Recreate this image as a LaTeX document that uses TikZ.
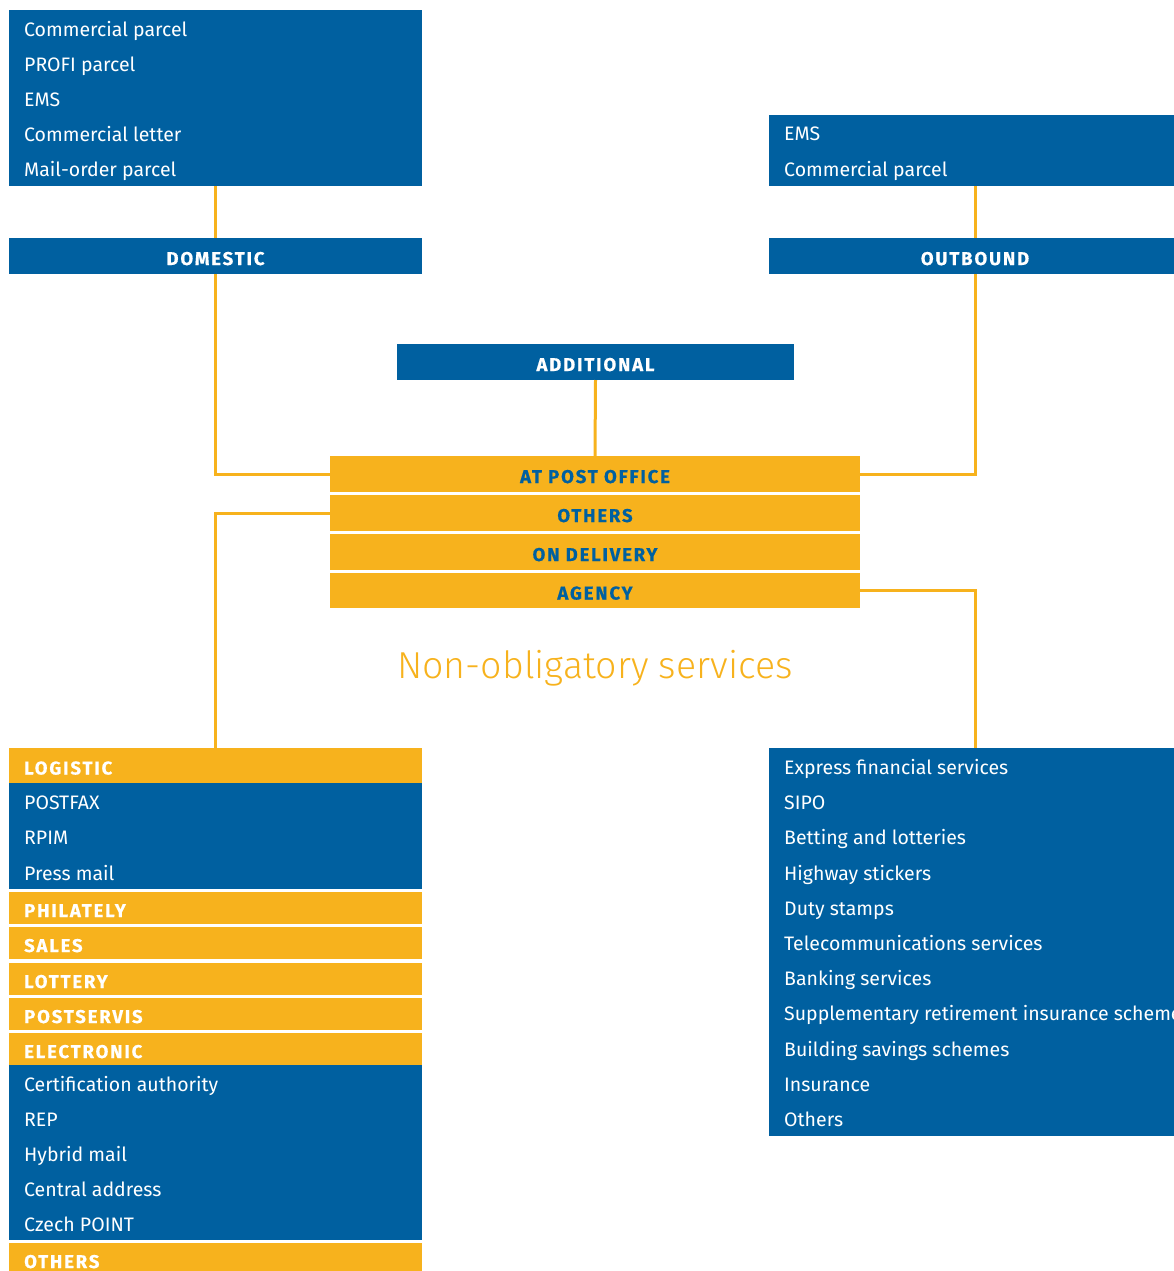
\documentclass[tikz,border=0pt]{standalone}
\usepackage{fontspec}
\setmainfont{Fira Sans}
\newfontfamily\headfont[LetterSpace=10, BoldFeatures={FakeBold=0.5}]{Fira Sans}
\newfontfamily\thinfont{Fira Sans Light}
\usetikzlibrary{positioning}
\definecolor{postblue}{RGB}{0,96,160}
\definecolor{postyellow}{RGB}{247,178,29}
\tikzset{
	box/.style={anchor=north west, inner sep=0pt, outer sep=0pt},
	bluebox/.style={box, fill=postblue},
	yellowbox/.style={box, fill=postyellow},
	item/.style={anchor=base west, inner sep=0pt, text=white, font=\fontsize{19.5}{19.5}\selectfont},
	head/.style={inner sep=0pt, text height=18pt, text depth=0pt, font=\headfont\bfseries\fontsize{18.5}{18.5}\selectfont},
	link/.style={postyellow, line width=3pt},
}
\begin{document}
\begin{tikzpicture}[x=1pt,y=-1pt]
	\useasboundingbox (0,0) rectangle (1173,1271);
	% domestic and outbound
	\node[bluebox, minimum width=413, minimum height=176] (domlist) at (9,10) {};
	\foreach \t [count=\i] in {Commercial parcel, PROFI parcel, EMS, Commercial letter, Mail-order parcel}
		\node[item] (dom-\i) at (24,{36.5+35*(\i-1)}) {\t};
	\node[bluebox, head, text=white, minimum width=413, minimum height=36] (dom) at (9,238) {DOMESTIC};
	\node[bluebox, minimum width=412, minimum height=71] (outlist) at (769,115) {};
	\node[item] (out-1) at (784,141) {EMS};
	\node[item] (out-2) at (784,176) {Commercial parcel};
	\node[bluebox, head, text=white, minimum width=412, minimum height=36] (outb) at (769,238) {OUTBOUND};
	% centre
	\node[bluebox, head, text=white, minimum width=397, minimum height=36] (add) at (397,344) {ADDITIONAL};
	\node[yellowbox, head, text=postblue, minimum width=530, minimum height=36] (apo) at (330,456) {AT POST OFFICE};
	\node[yellowbox, head, text=postblue, minimum width=530, minimum height=36] (oth) at (330,495) {OTHERS};
	\node[yellowbox, head, text=postblue, minimum width=530, minimum height=36] (del) at (330,534) {ON DELIVERY};
	\node[yellowbox, head, text=postblue, minimum width=530, minimum height=35] (agy) at (330,573) {AGENCY};
	\node[anchor=base, inner sep=0pt, text=postyellow, font=\thinfont\fontsize{37.5}{37.5}\selectfont] (title) at (595,678) {Non-obligatory services};
	% bottom left
	\node[yellowbox, minimum width=413, minimum height=35] (logi) at (9,748) {};
	\node[bluebox, minimum width=413, minimum height=106] (logilist) at (9,783) {};
	\foreach \t [count=\i] in {POSTFAX, RPIM, Press mail}
		\node[item] (logi-\i) at (24,{809+35.5*(\i-1)}) {\t};
	\node[yellowbox, minimum width=413, minimum height=32] (phil) at (9,892) {};
	\node[yellowbox, minimum width=413, minimum height=32] (sale) at (9,927) {};
	\node[yellowbox, minimum width=413, minimum height=32] (lott) at (9,963) {};
	\node[yellowbox, minimum width=413, minimum height=32] (psrv) at (9,998) {};
	\node[yellowbox, minimum width=413, minimum height=32] (elec) at (9,1033) {};
	\node[bluebox, minimum width=413, minimum height=175] (eleclist) at (9,1065) {};
	\foreach \t [count=\i] in {Certification authority, REP, Hybrid mail, Central address, Czech POINT}
		\node[item] (elec-\i) at (24,{1091+35*(\i-1)}) {\t};
	\node[yellowbox, minimum width=413, minimum height=32] (rest) at (9,1243) {};
	\foreach \b/\t in {logi/LOGISTIC, phil/PHILATELY, sale/SALES, lott/LOTTERY, psrv/POSTSERVIS, elec/ELECTRONIC, rest/OTHERS}
		\node[head, text=white, anchor=west] (\b-head) at ([xshift=15pt]\b.west) {\t};
	% bottom right
	\node[bluebox, minimum width=412, minimum height=388] (fin) at (769,748) {};
	\foreach \t [count=\i] in {Express financial services, SIPO, Betting and lotteries, Highway stickers, Duty stamps,
			Telecommunications services, Banking services, Supplementary retirement insurance schemes,
			Building savings schemes, Insurance, Others}
		\node[item] (fin-\i) at (784,{774.5+35.2*(\i-1)}) {\t};
	% connectors
	\draw[link] (domlist.south) -- (dom.north);
	\draw[link] (dom.south) |- (apo.west);
	\draw[link] (outlist.south) -- (outb.north);
	\draw[link] (outb.south) |- (apo.east);
	\draw[link] (add.south) -- (apo.north);
	\draw[link] (oth.west) -| (logi.north);
	\draw[link] (agy.east) -| (fin.north);
\end{tikzpicture}
\end{document}
